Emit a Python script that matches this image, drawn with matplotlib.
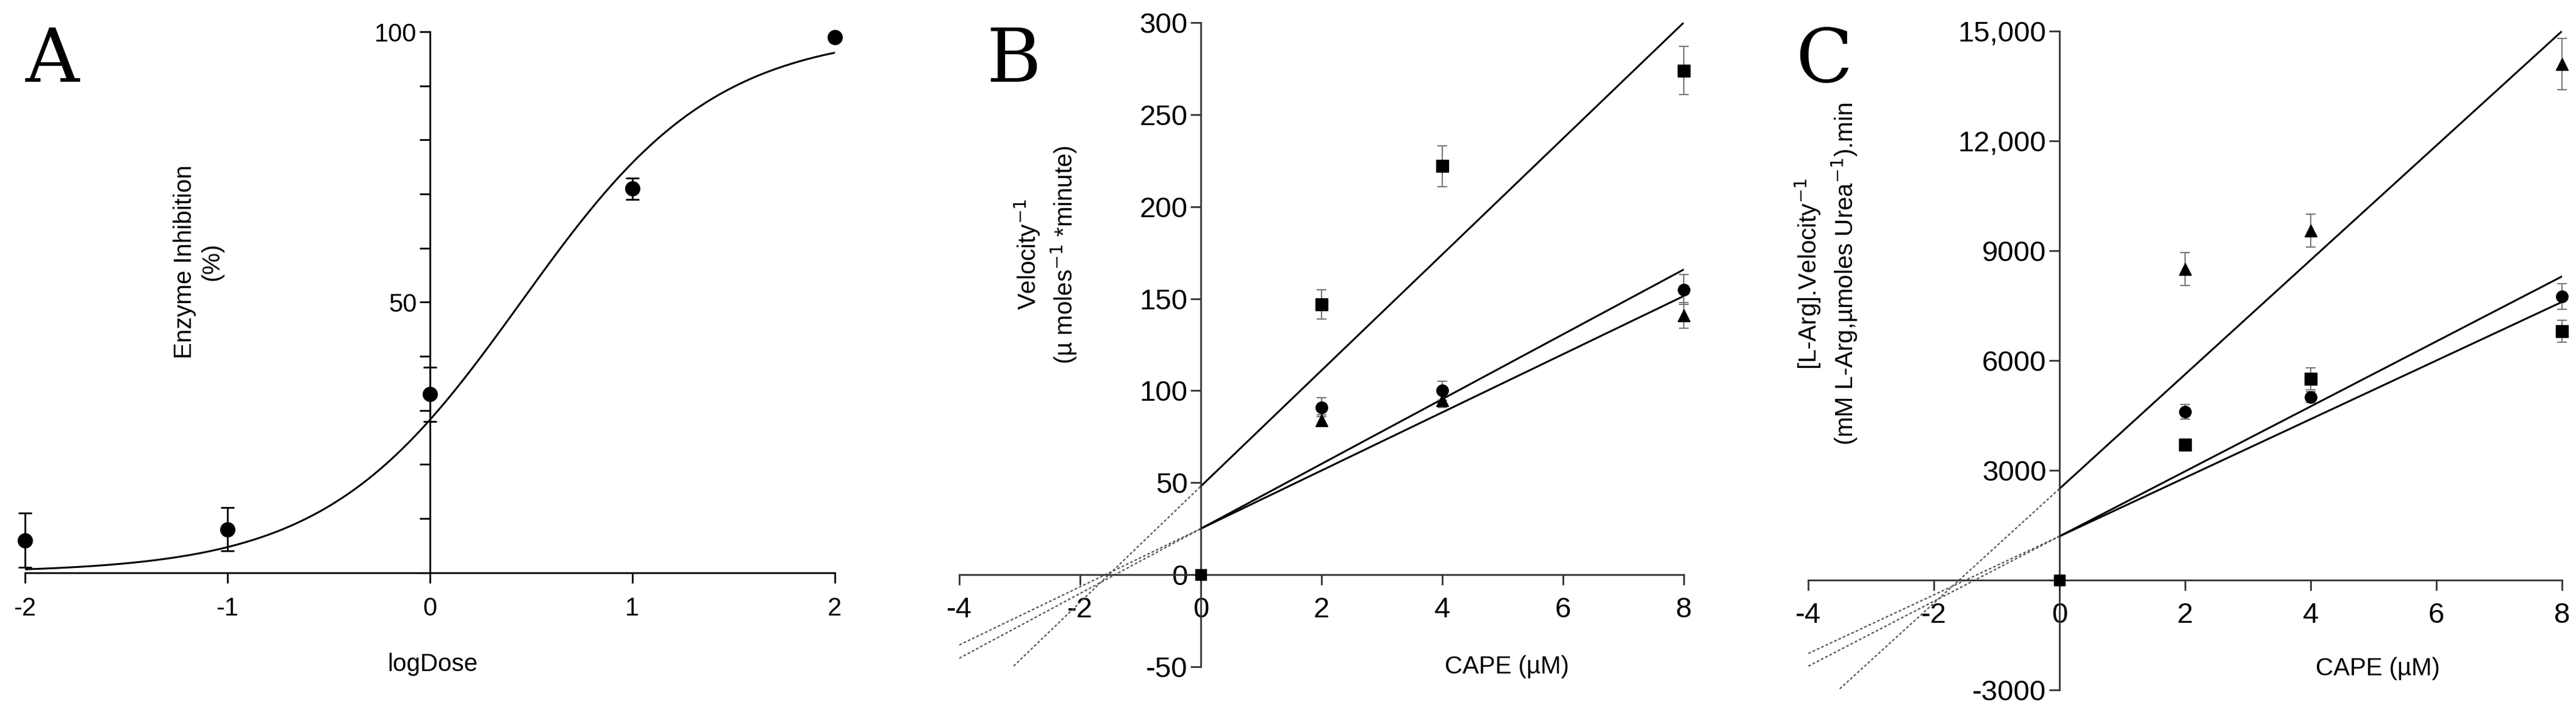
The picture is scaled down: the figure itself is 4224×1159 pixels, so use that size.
import matplotlib
matplotlib.use('Agg')
import numpy as np
import matplotlib.pyplot as plt

# ---- Panel A: dose response ----
logdose = [-2, -1, 0, 1, 2]
inhib = [6, 8, 33, 71, 99]
inhib_err = [5, 4, 5, 2, 0]
# fitted 4PL parameters
fit_bottom, fit_top, fit_logec50, fit_hill = 0, 100, 0.45, 0.9

# ---- Panel B ----
b_x = [2, 4, 8]
b_sq = [147, 222, 274]
b_sq_err = [8, 11, 13]
b_ci = [91, 100, 155]
b_ci_err = [5, 5, 8]
b_tr = [84, 95, 141]
b_tr_err = [3, 4, 7]
b_fits = [(48, 31.5), (25, 17.6), (25, 15.8)]  # (intercept, slope)
b_dash_start = [-3.1, -4, -4]

# ---- Panel C ----
c_x = [2, 4, 8]
c_tr = [8500, 9550, 14100]
c_tr_err = [450, 450, 700]
c_ci = [4600, 5000, 7750]
c_ci_err = [200, 150, 350]
c_sq = [3700, 5500, 6800]
c_sq_err = [150, 300, 300]
c_fits = [(2500, 1562), (1200, 887), (1200, 800)]
c_dash_start = [-3.5, -4, -4]

W, H = 42.24, 11.59
plt.rcParams['font.family'] = ['Liberation Sans', 'DejaVu Sans']
fig = plt.figure(figsize=(W, H), dpi=100)

def spine_setup(ax, col='black'):
    ax.spines['left'].set_position(('data', 0))
    ax.spines['bottom'].set_position(('data', 0))
    ax.spines['right'].set_visible(False)
    ax.spines['top'].set_visible(False)
    for s in ('left', 'bottom'):
        ax.spines[s].set_color(col)
        ax.spines[s].set_linewidth(2)
    ax.tick_params(direction='out', length=12, width=2, colors=col, labelcolor='black')
    ax.patch.set_alpha(0)

# Panel A
axA = fig.add_axes([0.0097, 0.19, 0.3143, 0.765])
spine_setup(axA)
axA.set_xlim(-2, 2)
axA.set_ylim(0, 100)
xs = np.linspace(-2, 2, 300)
curve = fit_bottom + (fit_top - fit_bottom) / (1 + 10 ** ((fit_logec50 - xs) * fit_hill))
axA.plot(xs, curve, color='black', lw=2.2)
axA.errorbar(logdose, inhib, yerr=inhib_err, fmt='o', color='black', ms=17,
             capsize=8, elinewidth=2, capthick=2, clip_on=False, zorder=5)
axA.set_xticks([-2, -1, 0, 1, 2])
axA.set_xticklabels(['-2', '-1', '0', '1', '2'])
axA.set_yticks([50, 100])
axA.set_yticks(np.arange(0, 101, 10), minor=True)
axA.tick_params(which='minor', direction='out', length=12, width=2)
axA.tick_params(labelsize=30)
axA.tick_params(axis='x', pad=16)
fig.text(0.077, 0.63, 'Enzyme Inhibition\n(%)', rotation=90, ha='center', va='center', fontsize=29)
fig.text(0.168, 0.06, 'logDose', ha='center', va='center', fontsize=29)
fig.text(0.010, 0.884, 'A', family='DejaVu Serif', fontsize=88)

def kin_panel(rect, xs_, series, fits, dstart, ylim, yticks, yticklabels):
    ax = fig.add_axes(rect)
    spine_setup(ax, '#333333')
    ax.set_xlim(-4, 8)
    ax.set_ylim(*ylim)
    for (b, m), x0 in zip(fits, dstart):
        ax.plot([0, 8], [b, b + 8 * m], color='black', lw=2.2)
        ax.plot([x0, 0], [b + x0 * m, b], color='#555555', lw=1.6, ls=(0, (2, 1.5)))
    for mk, ys, es in series:
        ax.errorbar(xs_, ys, yerr=es, fmt=mk, color='black', ms=14, ecolor='#777777',
                    capsize=6, elinewidth=1.5, capthick=1.5, clip_on=False, zorder=5)
    ax.plot([0], [0], 's', color='black', ms=13, clip_on=False, zorder=5)
    ax.set_xticks([-4, -2, 0, 2, 4, 6, 8])
    ax.set_xticklabels(['-4', '-2', '0', '2', '4', '6', '8'])
    ax.set_yticks(yticks)
    ax.set_yticklabels(yticklabels)
    ax.tick_params(labelsize=34)
    ax.tick_params(axis='x', pad=14)
    return ax

kin_panel([0.3724, 0.057, 0.2812, 0.911], b_x,
          [('s', b_sq, b_sq_err), ('o', b_ci, b_ci_err), ('^', b_tr, b_tr_err)],
          b_fits, b_dash_start, (-50, 300), list(range(-50, 301, 50)),
          [str(v) for v in range(-50, 301, 50)])
fig.text(0.406, 0.64, 'Velocity$^{-1}$\n(µ moles$^{-1}$ *minute)', rotation=90,
         ha='center', va='center', fontsize=29, linespacing=1.3)
fig.text(0.585, 0.057, 'CAPE (µM)', ha='center', va='center', fontsize=29)
fig.text(0.383, 0.884, 'B', family='DejaVu Serif', fontsize=88)

c_ticks = [-3000, 0, 3000, 6000, 9000, 12000, 15000]
kin_panel([0.702, 0.024, 0.2925, 0.932], c_x,
          [('^', c_tr, c_tr_err), ('o', c_ci, c_ci_err), ('s', c_sq, c_sq_err)],
          c_fits, c_dash_start, (-3000, 15000), c_ticks,
          ['-3000', '', '3000', '6000', '9000', '12,000', '15,000'])
fig.text(0.709, 0.613, '[L-Arg].Velocity$^{-1}$\n(mM L-Arg,µmoles Urea$^{-1}$).min', rotation=90,
         ha='center', va='center', fontsize=29, linespacing=1.3)
fig.text(0.923, 0.054, 'CAPE (µM)', ha='center', va='center', fontsize=29)
fig.text(0.697, 0.884, 'C', family='DejaVu Serif', fontsize=88)

fig.savefig('out.png', dpi=100)
